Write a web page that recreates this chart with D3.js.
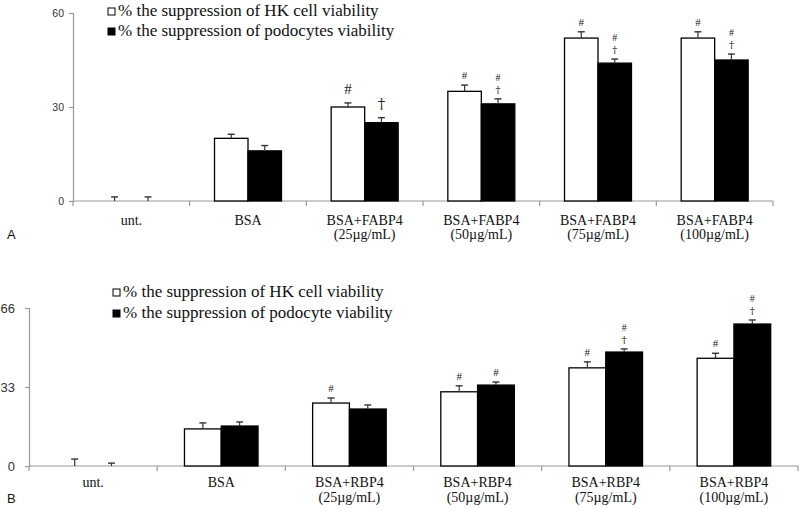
<!DOCTYPE html>
<html>
<head>
<meta charset="utf-8">
<script src="https://cdn.jsdelivr.net/npm/d3@7/dist/d3.min.js"></script>
<style>
html,body{margin:0;padding:0;background:#fff;}
svg{display:block;}
</style>
</head>
<body>
<svg id="chart" width="800" height="509"></svg>
<script>
// ---------- Panel A data ----------
const catsA = ["unt.", "BSA", "BSA+FABP4|(25µg/mL)", "BSA+FABP4|(50µg/mL)", "BSA+FABP4|(75µg/mL)", "BSA+FABP4|(100µg/mL)"];
const hkA = [0, 20, 30, 35, 52, 52];
const hkErrA = [1.3, 1.3, 1.3, 2.0, 2.0, 2.0];
const podA = [0, 16, 25, 31, 44, 45];
const podErrA = [1.3, 1.7, 1.6, 1.6, 1.3, 1.9];
const hkMarksA = [[], [], ["#"], ["#"], ["#"], ["#"]];
const podMarksA = [[], [], ["†"], ["#", "†"], ["#", "†"], ["#", "†"]];
const ticksA = [0, 30, 60];
const legendA = ["% the suppression of HK cell viability", "% the suppression of podocytes viability"];

// ---------- Panel B data ----------
const catsB = ["unt.", "BSA", "BSA+RBP4|(25µg/mL)", "BSA+RBP4|(50µg/mL)", "BSA+RBP4|(75µg/mL)", "BSA+RBP4|(100µg/mL)"];
const hkB = [0, 15.5, 26.3, 31, 41, 45];
const hkErrB = [2.9, 2.5, 2.1, 2.5, 2.5, 2.1];
const podB = [0, 16.7, 23.8, 33.8, 47.6, 59.3];
const podErrB = [1.2, 1.7, 1.7, 1.3, 1.3, 1.7];
const hkMarksB = [[], [], ["#"], ["#"], ["#"], ["#"]];
const podMarksB = [[], [], [], ["#"], ["#", "†"], ["#", "†"]];
const ticksB = [0, 33, 66];
const legendB = ["% the suppression of HK cell viability", "% the suppression of podocyte viability"];

const svg = d3.select("#chart");
const serif = "'Liberation Serif','Times New Roman',serif";
const dagFont = "'DejaVu Serif','Liberation Serif',serif";
const sans = "'Liberation Sans',Arial,sans-serif";

function panel(cfg) {
  const g = svg.append("g");
  const x = d3.scaleBand().domain(cfg.cats).range([cfg.x0, cfg.x1]).padding(0);
  const bw = x.bandwidth();
  const inner = d3.scaleBand().domain(["hk", "pod"]).range([bw * 0.213, bw * 0.787]).padding(0);
  const y = d3.scaleLinear().domain([0, cfg.ymax]).range([cfg.yBase, cfg.yTop]);

  // y axis
  const yAxis = d3.axisLeft(y).tickValues(cfg.ticks).tickSize(4).tickPadding(cfg.tickPad).tickFormat(d3.format("d"));
  const ya = g.append("g").attr("transform", `translate(${cfg.x0},0)`).call(yAxis);
  ya.select(".domain").attr("stroke", "#999").attr("stroke-width", 1.2);
  ya.selectAll(".tick line").attr("stroke", "#999").attr("stroke-width", 1.2);
  ya.selectAll(".tick text").attr("font-family", sans).attr("font-size", cfg.tickFont).attr("fill", "#333");

  // x axis line with boundary ticks
  g.append("line").attr("x1", cfg.x0).attr("x2", cfg.x1).attr("y1", y(0)).attr("y2", y(0))
    .attr("stroke", "#999").attr("stroke-width", 1.2);
  const bounds = cfg.cats.map(c => x(c)).concat([cfg.x1]);
  g.selectAll(".xb").data(bounds).enter().append("line")
    .attr("x1", d => d).attr("x2", d => d).attr("y1", y(0)).attr("y2", y(0) + 5)
    .attr("stroke", "#999").attr("stroke-width", 1.2);

  const rows = [];
  cfg.cats.forEach((c, i) => {
    rows.push({cat: c, s: "hk", v: cfg.hk[i], e: cfg.hkErr[i], m: cfg.hkMarks[i], i});
    rows.push({cat: c, s: "pod", v: cfg.pod[i], e: cfg.podErr[i], m: cfg.podMarks[i], i});
  });

  // bars
  g.selectAll(".bar").data(rows.filter(r => r.v > 0)).enter().append("rect")
    .attr("x", d => x(d.cat) + inner(d.s))
    .attr("width", inner.bandwidth())
    .attr("y", d => y(d.v))
    .attr("height", d => y(0) - y(d.v))
    .attr("fill", d => d.s === "hk" ? "#fff" : "#000")
    .attr("stroke", "#000").attr("stroke-width", 1.3);

  // error bars
  const cx = d => x(d.cat) + inner(d.s) + inner.bandwidth() / 2;
  g.selectAll(".err").data(rows).enter().append("line")
    .attr("x1", cx).attr("x2", cx)
    .attr("y1", d => y(d.v)).attr("y2", d => y(d.v + d.e))
    .attr("stroke", "#333").attr("stroke-width", 1.2);
  g.selectAll(".cap").data(rows).enter().append("line")
    .attr("x1", d => cx(d) - 3.5).attr("x2", d => cx(d) + 3.5)
    .attr("y1", d => y(d.v + d.e)).attr("y2", d => y(d.v + d.e))
    .attr("stroke", "#333").attr("stroke-width", 1.4);

  // significance marks
  rows.forEach(d => {
    const n = d.m.length;
    const big = cfg.bigIdx === d.i;
    d.m.forEach((t, k) => {
      const fromTop = n - 1 - k;
      const yy = y(d.v + d.e) - (big ? 9 : 6) - fromTop * 12;
      const isDag = t === "†";
      g.append("text").attr("x", cx(d)).attr("y", yy)
        .attr("text-anchor", "middle")
        .attr("font-family", isDag ? dagFont : serif)
        .attr("font-size", big ? 15 : (n > 1 ? 10 : 11))
        .attr("fill", "#222").text(t);
    });
  });

  // category labels
  cfg.cats.forEach(c => {
    const parts = c.split("|");
    parts.forEach((p, k) => {
      g.append("text").attr("x", x(c) + bw / 2).attr("y", cfg.labY + k * cfg.labGap)
        .attr("text-anchor", "middle").attr("font-family", serif).attr("font-size", 14)
        .attr("fill", "#111").text(p);
    });
  });

  // legend
  cfg.legend.forEach((t, k) => {
    const ly = cfg.legY + k * cfg.legGap;
    g.append("rect").attr("x", cfg.legX).attr("y", ly - 8).attr("width", 7).attr("height", 7)
      .attr("fill", k === 0 ? "#fff" : "#000").attr("stroke", "#000").attr("stroke-width", 1);
    g.append("text").attr("x", cfg.legX + 10).attr("y", ly)
      .attr("font-family", serif).attr("font-size", 17).attr("fill", "#111").text(t);
  });

  // panel letter
  g.append("text").attr("x", 7).attr("y", cfg.letterY).attr("font-family", sans)
    .attr("font-size", 13).attr("fill", "#111").text(cfg.letter);
}

panel({cats: catsA, hk: hkA, hkErr: hkErrA, pod: podA, podErr: podErrA,
  hkMarks: hkMarksA, podMarks: podMarksA, ticks: ticksA, legend: legendA,
  x0: 73, x1: 773, yBase: 201, yTop: 13, ymax: 60, tickFont: 10.5, tickPad: 5,
  labY: 225, labGap: 13.5, legX: 108, legY: 16, legGap: 20, letter: "A", letterY: 239, bigIdx: 2});

panel({cats: catsB, hk: hkB, hkErr: hkErrB, pod: podB, podErr: podErrB,
  hkMarks: hkMarksB, podMarks: podMarksB, ticks: ticksB, legend: legendB,
  x0: 29, x1: 798, yBase: 466, yTop: 308, ymax: 66, tickFont: 13, tickPad: 10,
  labY: 487, labGap: 14.5, legX: 113, legY: 297, legGap: 21, letter: "B", letterY: 503, bigIdx: -1});
</script>
</body>
</html>
